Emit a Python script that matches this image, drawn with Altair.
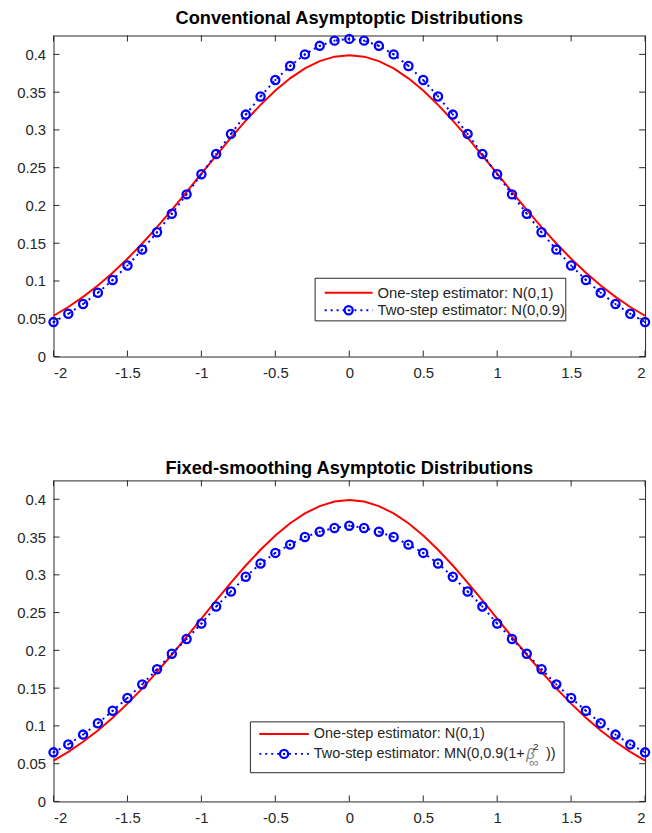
import altair as alt
import pandas as pd

# ---------------- data ----------------
x_values = [-2.0, -1.9, -1.8, -1.7, -1.6, -1.5, -1.4, -1.3, -1.2, -1.1, -1.0,
            -0.9, -0.8, -0.7, -0.6, -0.5, -0.4, -0.3, -0.2, -0.1, 0.0,
            0.1, 0.2, 0.3, 0.4, 0.5, 0.6, 0.7, 0.8, 0.9, 1.0,
            1.1, 1.2, 1.3, 1.4, 1.5, 1.6, 1.7, 1.8, 1.9, 2.0]

one_step = [0.0540, 0.0656, 0.0790, 0.0940, 0.1109, 0.1295, 0.1497, 0.1714, 0.1942, 0.2179, 0.2420,
            0.2661, 0.2897, 0.3123, 0.3332, 0.3521, 0.3683, 0.3814, 0.3910, 0.3970, 0.3989,
            0.3970, 0.3910, 0.3814, 0.3683, 0.3521, 0.3332, 0.3123, 0.2897, 0.2661, 0.2420,
            0.2179, 0.1942, 0.1714, 0.1497, 0.1295, 0.1109, 0.0940, 0.0790, 0.0656, 0.0540]

two_step_conventional = [0.0456, 0.0566, 0.0695, 0.0844, 0.1014, 0.1205, 0.1416, 0.1645, 0.1890, 0.2147, 0.2413,
                         0.2681, 0.2947, 0.3203, 0.3443, 0.3660, 0.3847, 0.4000, 0.4113, 0.4182, 0.4205,
                         0.4182, 0.4113, 0.4000, 0.3847, 0.3660, 0.3443, 0.3203, 0.2947, 0.2681, 0.2413,
                         0.2147, 0.1890, 0.1645, 0.1416, 0.1205, 0.1014, 0.0844, 0.0695, 0.0566, 0.0456]

two_step_fixed = [0.0650, 0.0755, 0.0885, 0.1035, 0.1200, 0.1370, 0.1550, 0.1750, 0.1955, 0.2150, 0.2355,
                  0.2580, 0.2780, 0.2975, 0.3150, 0.3290, 0.3400, 0.3500, 0.3570, 0.3620, 0.3650,
                  0.3620, 0.3570, 0.3500, 0.3400, 0.3290, 0.3150, 0.2975, 0.2780, 0.2580, 0.2355,
                  0.2150, 0.1955, 0.1750, 0.1550, 0.1370, 0.1200, 0.1035, 0.0885, 0.0755, 0.0650]

x_tick_values = [-2, -1.5, -1, -0.5, 0, 0.5, 1, 1.5, 2]
y_tick_values = [0, 0.05, 0.1, 0.15, 0.2, 0.25, 0.3, 0.35, 0.4]

title_top = "Conventional Asymptoptic Distributions"
title_bottom = "Fixed-smoothing Asymptotic Distributions"
legend_one = "One-step estimator: N(0,1)"
legend_two_conv = "Two-step estimator: N(0,0.9)"
legend_two_fixed = ["Two-step estimator: MN(0,0.9(1+", "β", "2", "∞", "))"]

# ---------------- styling ----------------
W, H = 597, 324
Y_MAX = 0.425
FONT = "Liberation Sans"
AX = "#262626"
RED = "#FF0000"
BLUE = "#0000FF"
DOT = [2, 4]
LBL = 15
MSIZE = 68
MSTROKE = 2.3

xs = alt.Scale(domain=[-2, 2], nice=False, zero=False)
ys = alt.Scale(domain=[0, Y_MAX], nice=False, zero=False)
x_axis = alt.Axis(values=x_tick_values, labelExpr="'' + datum.value", labelPadding=9, title=None,
                  labelFontSize=LBL, labelFont=FONT, labelColor=AX, ticks=False, domain=False, grid=False)
y_axis = alt.Axis(values=y_tick_values, labelExpr="'' + datum.value", labelPadding=8, title=None,
                  labelFontSize=LBL, labelFont=FONT, labelColor=AX, ticks=False, domain=False, grid=False)


def X(field):
    return alt.X(field, scale=xs, axis=x_axis)


def Y(field):
    return alt.Y(field, scale=ys, axis=y_axis)


def single():
    return alt.Data(values=[{"k": 0}])


def frame_ticks():
    xt = pd.DataFrame({"t": x_tick_values})
    yt = pd.DataFrame({"t": y_tick_values})
    layers = []
    for y0, y1 in [(H, H - 6), (0, 6)]:
        layers.append(alt.Chart(xt).mark_rule(color=AX, strokeWidth=1).encode(
            x=X("t:Q"), y=alt.value(y0), y2=alt.value(y1)))
    for x0, x1 in [(0, 6), (W - 6, W)]:
        layers.append(alt.Chart(yt).mark_rule(color=AX, strokeWidth=1).encode(
            y=Y("t:Q"), x=alt.value(x0), x2=alt.value(x1)))
    return layers


def txt(text, x, y, size, **kw):
    return alt.Chart(single()).mark_text(
        align="left", baseline="middle", font=FONT, fontSize=size,
        color=kw.pop("color", AX), **kw
    ).encode(x=alt.value(x), y=alt.value(y), text=alt.value(text))


def legend(box, r1, r2, lx0, lx1, tx, size, row2_layers):
    b0, b1, b2, b3 = box
    mx = (lx0 + lx1) / 2
    layers = [
        alt.Chart(single()).mark_rect(fill="white", stroke=AX, strokeWidth=1).encode(
            x=alt.value(b0), x2=alt.value(b1), y=alt.value(b2), y2=alt.value(b3)),
        alt.Chart(single()).mark_rule(color=RED, strokeWidth=2).encode(
            x=alt.value(lx0), x2=alt.value(lx1), y=alt.value(r1)),
        alt.Chart(single()).mark_rule(color=BLUE, strokeWidth=2, strokeDash=DOT).encode(
            x=alt.value(lx0), x2=alt.value(lx1), y=alt.value(r2)),
        alt.Chart(single()).mark_point(shape="circle", size=MSIZE, filled=False, strokeWidth=MSTROKE,
                                       color=BLUE, opacity=1).encode(
            x=alt.value(mx), y=alt.value(r2)),
        alt.Chart(single()).mark_point(shape="circle", size=5, filled=True, color=BLUE, opacity=1).encode(
            x=alt.value(mx), y=alt.value(r2)),
        txt(legend_one, tx, r1, size),
    ]
    return layers + row2_layers


def panel(title, two_vals, legend_layers):
    df = pd.DataFrame({"x": x_values, "one": one_step, "two": two_vals})
    base = alt.Chart(df)
    red = base.mark_line(color=RED, strokeWidth=2).encode(x=X("x:Q"), y=Y("one:Q"))
    blue_line = base.mark_line(color=BLUE, strokeWidth=2, strokeDash=DOT).encode(x=X("x:Q"), y=Y("two:Q"))
    blue_pts = base.mark_point(shape="circle", size=MSIZE, filled=False, strokeWidth=MSTROKE,
                               color=BLUE, opacity=1).encode(x=X("x:Q"), y=Y("two:Q"))
    blue_dots = base.mark_point(shape="circle", size=5, filled=True, color=BLUE,
                                opacity=1).encode(x=X("x:Q"), y=Y("two:Q"))
    layers = [red, blue_line, blue_pts, blue_dots] + frame_ticks() + legend_layers
    return alt.layer(*layers).properties(
        width=W, height=H,
        title=alt.TitleParams(text=title, font=FONT, fontSize=18.4, fontWeight="bold", color="black",
                              anchor="middle", baseline="alphabetic", offset=-12))


top_legend = legend((264, 517, 245, 288), 259.7, 277.3, 273.7, 322, 327, 15,
                    [txt(legend_two_conv, 327, 277.3, 15)])

bottom_legend = legend((198.7, 515.3, 243.7, 295), 256, 276, 207.7, 257.7, 262.7, 14.6,
                       [txt(legend_two_fixed[0], 262.7, 276, 14.6),
                        txt(legend_two_fixed[1], 477, 276, 15, fontStyle="italic", color="#808080"),
                        txt(legend_two_fixed[2], 484, 269, 10),
                        txt(legend_two_fixed[3], 480, 285, 13, color="#808080"),
                        txt(legend_two_fixed[4], 497, 276, 14.6)])

top = panel(title_top, two_step_conventional, top_legend)
bottom = panel(title_bottom, two_step_fixed, bottom_legend)

chart = alt.vconcat(top, bottom, spacing=125, bounds="flush").properties(
    padding={"left": 16, "top": 4, "right": -3, "bottom": 0}
).configure_view(stroke=AX, strokeWidth=1).configure_axis(
    grid=False, domain=False, ticks=False, labelFont=FONT, labelFontSize=LBL, labelColor=AX
)

chart.save("out.html", embed_options={"renderer": "svg", "actions": False})
